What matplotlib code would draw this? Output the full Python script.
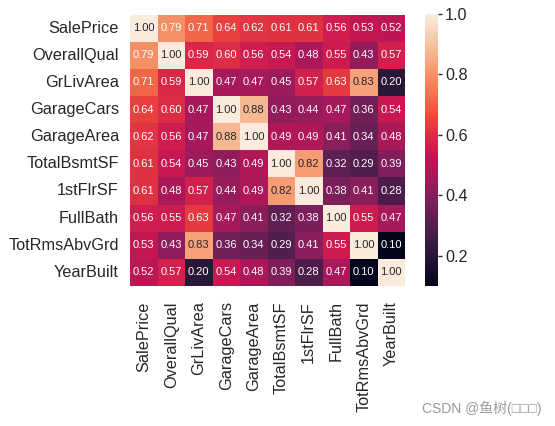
import numpy as np
import matplotlib
matplotlib.use("Agg")
import matplotlib.pyplot as plt
import seaborn as sns

cols = ['SalePrice', 'OverallQual', 'GrLivArea', 'GarageCars', 'GarageArea',
        'TotalBsmtSF', '1stFlrSF', 'FullBath', 'TotRmsAbvGrd', 'YearBuilt']

row_saleprice = [1.00, 0.79, 0.71, 0.64, 0.62, 0.61, 0.61, 0.56, 0.53, 0.52]
row_overallqual = [0.79, 1.00, 0.59, 0.60, 0.56, 0.54, 0.48, 0.55, 0.43, 0.57]
row_grlivarea = [0.71, 0.59, 1.00, 0.47, 0.47, 0.45, 0.57, 0.63, 0.83, 0.20]
row_garagecars = [0.64, 0.60, 0.47, 1.00, 0.88, 0.43, 0.44, 0.47, 0.36, 0.54]
row_garagearea = [0.62, 0.56, 0.47, 0.88, 1.00, 0.49, 0.49, 0.41, 0.34, 0.48]
row_totalbsmtsf = [0.61, 0.54, 0.45, 0.43, 0.49, 1.00, 0.82, 0.32, 0.29, 0.39]
row_1stflrsf = [0.61, 0.48, 0.57, 0.44, 0.49, 0.82, 1.00, 0.38, 0.41, 0.28]
row_fullbath = [0.56, 0.55, 0.63, 0.47, 0.41, 0.32, 0.38, 1.00, 0.55, 0.47]
row_totrms = [0.53, 0.43, 0.83, 0.36, 0.34, 0.29, 0.41, 0.55, 1.00, 0.10]
row_yearbuilt = [0.52, 0.57, 0.20, 0.54, 0.48, 0.39, 0.28, 0.47, 0.10, 1.00]

cm = np.array([row_saleprice, row_overallqual, row_grlivarea, row_garagecars,
               row_garagearea, row_totalbsmtsf, row_1stflrsf, row_fullbath,
               row_totrms, row_yearbuilt])

sns.set_theme(style='white')
plt.rcParams['font.family'] = ['Liberation Sans', 'Noto Sans CJK SC', 'DejaVu Sans']

fig = plt.figure(figsize=(5.55, 4.26), dpi=100)
W, H = 555, 426
ax = fig.add_axes([130 / W, 1 - 286 / H, 275 / W, 271.5 / H])
cax = fig.add_axes([425 / W, 1 - 286 / H, 13 / W, 272 / H])

sns.heatmap(cm, annot=True, fmt='.2f', square=False, cbar=True, cbar_ax=cax,
            annot_kws={'size': 8}, xticklabels=cols, yticklabels=cols, ax=ax)

ax.set_yticklabels(cols, rotation=0)
ax.set_xticklabels(cols, rotation=90)
ax.tick_params(axis='both', length=0, labelsize=11.7, colors='#262626')
ax.tick_params(axis='y', pad=8)
ax.tick_params(axis='x', pad=11)

cax.tick_params(length=3, width=1, labelsize=11.7, colors='#262626', pad=2)
cax.set_yticks([0.2, 0.4, 0.6, 0.8, 1.0])
for s in cax.spines.values():
    s.set_visible(False)

fig.text(541 / W, 1 - 408 / H, 'CSDN @鱼树(\u25a1\u25a1\u25a1)', ha='right', va='center',
         fontsize=10, color='#999999')

fig.savefig('out.png', dpi=100)
